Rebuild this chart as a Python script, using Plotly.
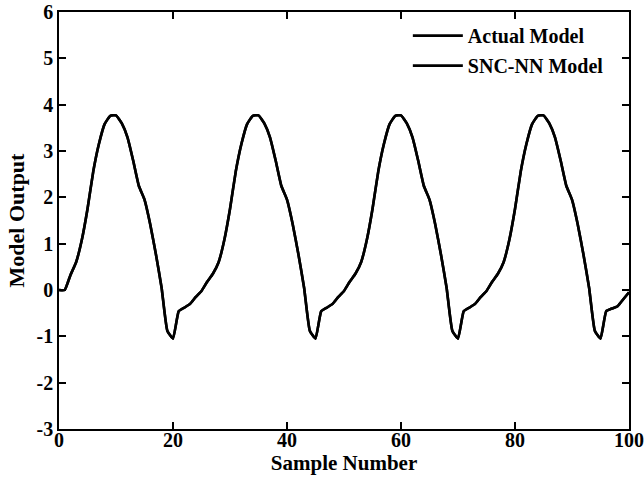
import plotly.graph_objects as go

sample_number = list(range(0, 101))

actual_model = [
    0.00, 0.00, 0.32, 0.60, 1.08, 1.75, 2.55, 3.15, 3.58, 3.76,
    3.77, 3.60, 3.30, 2.80, 2.25, 1.95, 1.42, 0.77, 0.05, -0.88,
    -1.05, -0.46, -0.38, -0.30, -0.15,
    -0.02, 0.18, 0.35, 0.60, 1.08, 1.75, 2.55, 3.15, 3.58, 3.76,
    3.77, 3.60, 3.30, 2.80, 2.25, 1.95, 1.42, 0.77, 0.05, -0.88,
    -1.05, -0.46, -0.38, -0.30, -0.15,
    -0.02, 0.18, 0.35, 0.60, 1.08, 1.75, 2.55, 3.15, 3.58, 3.76,
    3.77, 3.60, 3.30, 2.80, 2.25, 1.95, 1.42, 0.77, 0.05, -0.88,
    -1.05, -0.46, -0.38, -0.30, -0.15,
    -0.02, 0.18, 0.35, 0.60, 1.08, 1.75, 2.55, 3.15, 3.58, 3.76,
    3.77, 3.60, 3.30, 2.80, 2.25, 1.95, 1.42, 0.77, 0.05, -0.88,
    -1.05, -0.46, -0.40, -0.35, -0.20,
    -0.05,
]

snc_nn_model = [
    0.00, 0.00, 0.32, 0.60, 1.08, 1.75, 2.55, 3.15, 3.58, 3.76,
    3.77, 3.60, 3.30, 2.80, 2.25, 1.95, 1.42, 0.77, 0.05, -0.88,
    -1.05, -0.46, -0.38, -0.30, -0.15,
    -0.02, 0.18, 0.35, 0.60, 1.08, 1.75, 2.55, 3.15, 3.58, 3.76,
    3.77, 3.60, 3.30, 2.80, 2.25, 1.95, 1.42, 0.77, 0.05, -0.88,
    -1.05, -0.46, -0.38, -0.30, -0.15,
    -0.02, 0.18, 0.35, 0.60, 1.08, 1.75, 2.55, 3.15, 3.58, 3.76,
    3.77, 3.60, 3.30, 2.80, 2.25, 1.95, 1.42, 0.77, 0.05, -0.88,
    -1.05, -0.46, -0.38, -0.30, -0.15,
    -0.02, 0.18, 0.35, 0.60, 1.08, 1.75, 2.55, 3.15, 3.58, 3.76,
    3.77, 3.60, 3.30, 2.80, 2.25, 1.95, 1.42, 0.77, 0.05, -0.88,
    -1.05, -0.46, -0.40, -0.35, -0.20,
    -0.05,
]

x_ticks = [0, 20, 40, 60, 80, 100]
y_ticks = [-3, -2, -1, 0, 1, 2, 3, 4, 5, 6]

FONT = "Liberation Serif"

fig = go.Figure()
fig.add_trace(go.Scatter(x=sample_number, y=actual_model, mode="lines",
                         name="<b>Actual Model</b>", legendgroup="a",
                         line=dict(color="black", width=2.6, shape="spline", smoothing=0.4)))
fig.add_trace(go.Scatter(x=sample_number, y=snc_nn_model, mode="lines",
                         name="<b>SNC-NN Model</b>", legendgroup="b",
                         line=dict(color="black", width=2.6, shape="spline", smoothing=0.4)))

axis_common = dict(showline=True, linecolor="black", linewidth=1.5, mirror="ticks",
                   ticks="inside", ticklen=7, tickwidth=1.5, tickcolor="black",
                   showgrid=False, zeroline=False, automargin=False,
                   tickfont=dict(family=FONT, size=20, color="black"))

fig.update_xaxes(range=[0, 100], tickvals=x_ticks,
                 ticktext=[f"<b>{v}</b>" for v in x_ticks],
                 ticklabelstandoff=-8,
                 title=dict(text="<b>Sample Number</b>", standoff=6,
                            font=dict(family=FONT, size=21, color="black")),
                 **axis_common)
fig.update_yaxes(range=[-3, 6], tickvals=y_ticks,
                 ticktext=[f"<b>{v}</b>" for v in y_ticks],
                 title=dict(text="<b>Model Output</b>", standoff=6,
                            font=dict(family=FONT, size=22, color="black")),
                 **axis_common)

fig.update_layout(
    width=644, height=488,
    margin=dict(l=59, r=15, t=12, b=59),
    paper_bgcolor="white", plot_bgcolor="white",
    font=dict(family=FONT, color="black"),
    legend=dict(x=0.612, y=0.99, xanchor="left", yanchor="top",
                bgcolor="rgba(0,0,0,0)", borderwidth=0,
                tracegroupgap=1, traceorder="grouped", itemwidth=50,
                font=dict(family=FONT, size=20, color="black")),
    showlegend=True,
)

fig.write_html("out.html")
